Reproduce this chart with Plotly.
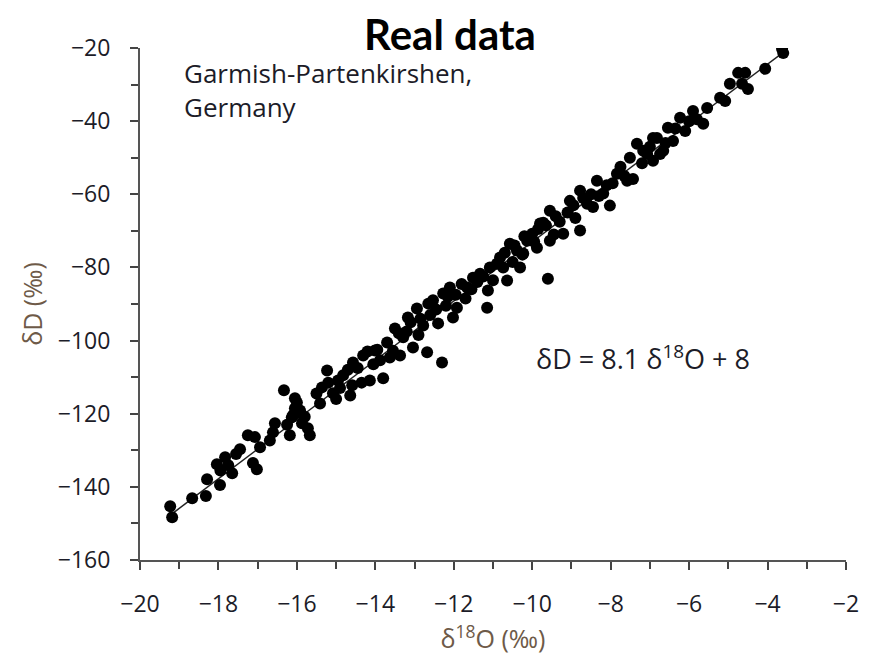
import plotly.graph_objects as go

# -- Daten ---------------------------------------------------------------------
d18o = [
    # -19.3 .. -15.6
    -19.23, -19.18, -18.67, -18.32, -18.29, -17.96, -18.04, -17.83, -17.65, -17.75,
    -17.45, -17.25, -17.12, -17.02, -17.07, -16.94, -16.69, -16.56, -16.61, -16.33,
    -16.18, -16.13, -16.00, -15.87, -15.97, -15.67, -15.72, -16.05, -15.80, -16.25,
    -17.55, -17.95,
    # -16.1 .. -12.3
    -16.05, -15.92, -16.10, -15.41, -15.36, -15.23, -15.08, -14.95, -14.82, -14.64,
    -14.59, -14.57, -14.31, -14.14, -14.01, -13.80, -13.88, -13.63, -13.50, -13.37,
    -13.29, -13.17, -13.04, -12.94, -12.78, -12.68, -12.65, -15.20, -14.90, -14.70,
    -14.45, -14.20, -14.05, -13.95, -13.70, -13.55, -13.40, -13.20, -13.10, -12.90,
    -12.30, -15.50, -15.00, -14.35,
    # -12.9 .. -9.6
    -12.53, -12.40, -12.27, -12.10, -12.02, -11.92, -11.66, -11.51, -11.33, -11.13,
    -11.15, -11.08, -10.82, -10.64, -10.74, -10.57, -10.39, -10.31, -10.13, -10.00,
    -9.88, -9.72, -9.60, -12.45, -12.20, -12.15, -11.95, -11.80, -11.70, -11.55,
    -11.40, -11.25, -11.00, -10.90, -10.70, -10.50, -10.45, -10.25, -10.20, -9.95,
    -9.85, -12.60, -12.85,
    # -10.3 .. -6.5
    -10.23, -10.06, -9.80, -9.55, -9.55, -9.21, -9.04, -8.78, -8.78, -8.60,
    -8.35, -8.19, -8.02, -7.84, -7.58, -7.43, -7.51, -7.33, -7.07, -6.92,
    -6.82, -6.66, -6.54, -9.65, -9.40, -9.30, -9.10, -8.95, -8.90, -8.70,
    -8.50, -8.45, -8.30, -8.10, -7.95, -7.75, -7.65, -7.20, -7.00, -9.45,
    # -7.2 .. -3.6
    -7.17, -6.92, -6.74, -6.41, -6.23, -6.10, -5.90, -5.64, -5.54, -5.21,
    -5.08, -4.96, -4.75, -4.57, -4.65, -4.50, -4.06, -3.63, -3.60, -6.60,
    -6.35, -6.00, -5.80,
]
dD = [
    -145.3, -148.3, -143.1, -142.5, -137.9, -139.5, -133.8, -131.9, -136.3, -134.1,
    -129.7, -125.9, -133.5, -135.2, -126.4, -129.2, -127.3, -122.6, -125.1, -113.6,
    -125.9, -121.0, -116.9, -122.6, -119.6, -125.9, -124.0, -118.5, -120.8, -123.0,
    -131.0, -135.5,
    -115.8, -119.1, -120.4, -117.2, -112.8, -108.2, -114.4, -110.9, -109.5, -115.0,
    -112.2, -106.0, -104.1, -110.9, -102.7, -110.3, -105.4, -104.6, -96.7, -104.1,
    -99.1, -93.7, -101.9, -91.2, -95.9, -103.2, -89.9, -111.5, -113.0, -108.0,
    -107.5, -103.0, -106.5, -102.5, -100.5, -102.8, -98.0, -97.5, -95.0, -98.5,
    -106.0, -114.5, -116.0, -111.5,
    -89.0, -95.3, -87.1, -85.5, -93.7, -91.0, -85.5, -82.8, -81.7, -86.3,
    -91.0, -80.0, -77.3, -83.6, -80.0, -73.5, -75.4, -80.0, -72.7, -70.8,
    -74.6, -67.8, -83.1, -91.5, -90.5, -88.0, -87.5, -84.5, -88.5, -86.0,
    -84.0, -82.5, -83.5, -79.0, -76.0, -78.5, -74.0, -76.5, -71.5, -73.0,
    -69.5, -93.0, -94.0,
    -76.2, -71.9, -68.0, -64.5, -72.7, -70.8, -61.8, -69.9, -59.0, -62.6,
    -56.3, -59.8, -63.1, -54.4, -56.3, -55.8, -50.0, -46.2, -49.0, -50.8,
    -44.6, -48.1, -41.8, -68.5, -66.0, -67.5, -65.0, -63.0, -66.5, -61.0,
    -60.0, -63.5, -60.5, -57.5, -57.0, -52.5, -55.0, -51.5, -47.0, -71.0,
    -48.1, -44.6, -49.0, -45.4, -39.1, -42.7, -37.2, -40.7, -36.4, -33.6,
    -34.5, -29.8, -26.8, -26.8, -29.8, -31.2, -25.7, -20.3, -21.4, -46.0,
    -42.0, -40.0, -39.5,
]

fit_x = [-19.2, -3.6]
fit_y = [-147.5, -21.2]

x_ticks = [-20, -18, -16, -14, -12, -10, -8, -6, -4, -2]
y_ticks = [-160, -140, -120, -100, -80, -60, -40, -20]

# -- Plot ----------------------------------------------------------------------
fig = go.Figure()

fig.add_trace(go.Scatter(
    x=fit_x, y=fit_y,
    mode="lines",
    line=dict(color="#222222", width=1.5),
    showlegend=False,
))
fig.add_trace(go.Scatter(
    x=d18o, y=dD,
    mode="markers",
    marker=dict(color="black", size=12, line=dict(width=0)),
    showlegend=False,
))

tick_font = dict(family="Open Sans", size=23, color="#1c1c28")
title_font = dict(family="Open Sans", size=25, color="#6e5a48")
minor_ticks = dict(ticks="outside", ticklen=7, tickwidth=2, tickcolor="#444444")
axis_common = dict(
    showgrid=False, zeroline=False,
    showline=True, linecolor="#555555", linewidth=2,
    ticks="outside", ticklen=8, tickwidth=2, tickcolor="#444444",
    tickfont=tick_font,
)

fig.update_xaxes(
    range=[-20, -2], tickvals=x_ticks,
    ticktext=[f"\u2212{abs(v)}" for v in x_ticks],
    minor=dict(dtick=1, **minor_ticks),
    ticklabelstandoff=14,
    title=dict(text="\u03b4<sup>18</sup>O (\u2030)", font=title_font, standoff=8),
    **axis_common,
)
fig.update_yaxes(
    range=[-160, -20], tickvals=y_ticks,
    ticktext=[f"\u2212{abs(v)}" for v in y_ticks],
    minor=dict(dtick=10, **minor_ticks),
    ticklabelstandoff=15,
    title=dict(text="\u03b4D (\u2030)", font=title_font, standoff=8),
    **axis_common,
)

fig.add_annotation(
    text="Garmish-Partenkirshen,<br>Germany",
    xref="paper", yref="paper", x=0.059, y=0.99,
    xanchor="left", yanchor="top", align="left", showarrow=False,
    font=dict(family="Open Sans", size=26, color="#1c1c28"),
)
fig.add_annotation(
    text="\u03b4D = 8.1 \u03b4<sup>18</sup>O + 8",
    x=-9.95, y=-104.5, xanchor="left", yanchor="middle", showarrow=False,
    font=dict(family="Open Sans", size=27, color="#1c1c28"),
)

# Browser-Seitenrand (8 px) beim Positionieren der Plotfläche berücksichtigt
fig.update_layout(
    width=870, height=662,
    template="plotly_white",
    plot_bgcolor="white", paper_bgcolor="white",
    margin=dict(l=132, r=32, t=40, b=110),
    title=dict(text="<b>Real data</b>", x=0.508, xanchor="center",
               y=0.959, yanchor="middle",
               font=dict(family="Lato", size=42, color="black")),
)

fig.write_html("out.html")
